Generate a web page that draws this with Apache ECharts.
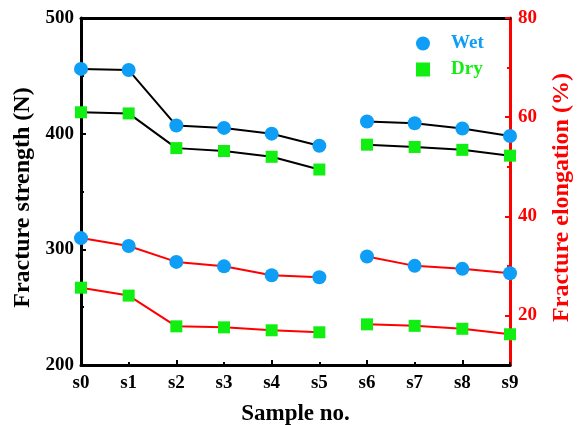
<!DOCTYPE html>
<html>
<head>
<meta charset="utf-8">
<script src="https://cdn.jsdelivr.net/npm/echarts@6/dist/echarts.min.js"></script>
<style>html,body{margin:0;padding:0;background:#fff;}#c{width:583px;height:425px;}</style>
</head>
<body>
<div id="c"></div>
<script>
const categories = ['s0','s1','s2','s3','s4','s5','s6','s7','s8','s9'];
// Fracture strength (N), left axis
const wetStrength = [456, 455, 407, 405, 400, 389.5, 410.5, 409, 404.5, 398];
const dryStrength = [418.5, 417.5, 387.5, 385, 380, 369, 390.5, 388.5, 386, 381];
// Fracture elongation (%), right axis
const wetElong = [35.6, 34.0, 30.8, 29.9, 28.1, 27.7, 31.9, 30.0, 29.4, 28.5];
const dryElong = [25.6, 24.0, 17.8, 17.6, 17.0, 16.6, 18.2, 17.9, 17.3, 16.2];
// segment split: s0–s5 and s6–s9
const segA = [0, 1, 2, 3, 4, 5];
const segB = [6, 7, 8, 9];
const leftTicks = [200, 300, 400, 500];
const rightMajor = [20, 40, 60, 80];
const rightMinor = [30, 50, 70];

const FONT = "'Liberation Serif','Times New Roman',serif";
const BLUE = '#0F9EF5';
const GREEN = '#11EE11';

function seg(arr, idx) {
  return arr.map((v, i) => idx.includes(i) ? v : '-');
}
function mk(name, data, idx, yAxisIndex, lineColor, symbol, size, color) {
  return {
    name: name, type: 'line', xAxisIndex: 0, yAxisIndex: yAxisIndex,
    data: seg(data, idx), symbol: symbol, symbolSize: size,
    showSymbol: true, connectNulls: false, animation: false,
    lineStyle: {color: lineColor, width: 2},
    itemStyle: {color: color, borderWidth: 0},
    z: 3
  };
}

const chart = echarts.init(document.getElementById('c'));
chart.setOption({
  animation: false,
  grid: {left: 81, right: 73, top: 18, bottom: 60, containLabel: false, outerBoundsMode: 'none'},
  legend: {
    orient: 'vertical', left: 411, top: 29, itemWidth: 14, itemHeight: 14, itemGap: 7,
    textStyle: {fontFamily: FONT, fontWeight: 'bold', fontSize: 19, padding: [0, 0, 0, 16]},
    data: [
      {name: 'Wet', icon: 'circle', textStyle: {color: BLUE}},
      {name: 'Dry', icon: 'rect', textStyle: {color: GREEN}}
    ]
  },
  xAxis: [
    {
      type: 'category', data: categories, boundaryGap: false, position: 'bottom',
      name: 'Sample no.', nameLocation: 'middle', nameGap: 38,
      nameTextStyle: {fontFamily: FONT, fontWeight: 'bold', fontSize: 23, color: '#000'},
      axisLine: {lineStyle: {color: '#000', width: 3}},
      axisTick: {inside: true, length: 5, interval: (i) => i % 2 === 0, lineStyle: {color: '#000', width: 2}},
      axisLabel: {fontFamily: FONT, fontWeight: 'bold', fontSize: 19, color: '#000', margin: 9, interval: 0},
      splitLine: {show: false}
    },
    {
      type: 'category', data: categories, boundaryGap: false, position: 'bottom',
      axisLine: {show: false},
      axisTick: {inside: true, length: 3, interval: 0, lineStyle: {color: '#000', width: 2}},
      axisLabel: {show: false}, splitLine: {show: false}
    },
    {
      type: 'category', data: categories, boundaryGap: false, position: 'top',
      axisLine: {lineStyle: {color: '#000', width: 3}},
      axisTick: {show: false}, axisLabel: {show: false}, splitLine: {show: false}
    }
  ],
  yAxis: [
    {
      type: 'value', position: 'left', min: 200, max: 500, interval: 100,
      name: 'Fracture strength (N)', nameLocation: 'middle', nameGap: 41,
      nameTextStyle: {fontFamily: FONT, fontWeight: 'bold', fontSize: 24, color: '#000', padding: [0, 12, 0, 0]},
      axisLine: {show: true, lineStyle: {color: '#000', width: 3}},
      axisTick: {show: true, inside: true, length: 5, lineStyle: {color: '#000', width: 2}},
      minorTick: {show: true, splitNumber: 2, length: 3, lineStyle: {color: '#000', width: 2}},
      axisLabel: {fontFamily: FONT, fontWeight: 'bold', fontSize: 19, color: '#000', margin: 7,
        customValues: leftTicks},
      splitLine: {show: false}
    },
    {
      type: 'value', position: 'right', min: 10, max: 80,
      name: 'Fracture elongation (%)', nameLocation: 'middle', nameGap: 40,
      nameTextStyle: {fontFamily: FONT, fontWeight: 'bold', fontSize: 24, color: '#FF0000', padding: [0, 12, 0, 0]},
      axisLine: {show: true, lineStyle: {color: '#FF0000', width: 3}},
      axisTick: {show: true, inside: true, length: 5, customValues: rightMajor, lineStyle: {color: '#FF0000', width: 2}},
      axisLabel: {fontFamily: FONT, fontWeight: 'bold', fontSize: 19, color: '#FF0000', margin: 8,
        customValues: rightMajor},
      splitLine: {show: false}
    },
    {
      type: 'value', position: 'right', min: 10, max: 80,
      axisLine: {show: false},
      axisTick: {show: true, inside: true, length: 3, customValues: rightMinor, lineStyle: {color: '#FF0000', width: 2}},
      axisLabel: {show: false},
      splitLine: {show: false}
    }
  ],
  series: [
    mk('Wet', wetStrength, segA, 0, '#000', 'circle', 14, BLUE),
    mk('Wet', wetStrength, segB, 0, '#000', 'circle', 14, BLUE),
    mk('Dry', dryStrength, segA, 0, '#000', 'rect', 12, GREEN),
    mk('Dry', dryStrength, segB, 0, '#000', 'rect', 12, GREEN),
    mk('Wet', wetElong, segA, 1, '#FF0000', 'circle', 14, BLUE),
    mk('Wet', wetElong, segB, 1, '#FF0000', 'circle', 14, BLUE),
    mk('Dry', dryElong, segA, 1, '#FF0000', 'rect', 12, GREEN),
    mk('Dry', dryElong, segB, 1, '#FF0000', 'rect', 12, GREEN)
  ]
});
</script>
</body>
</html>
